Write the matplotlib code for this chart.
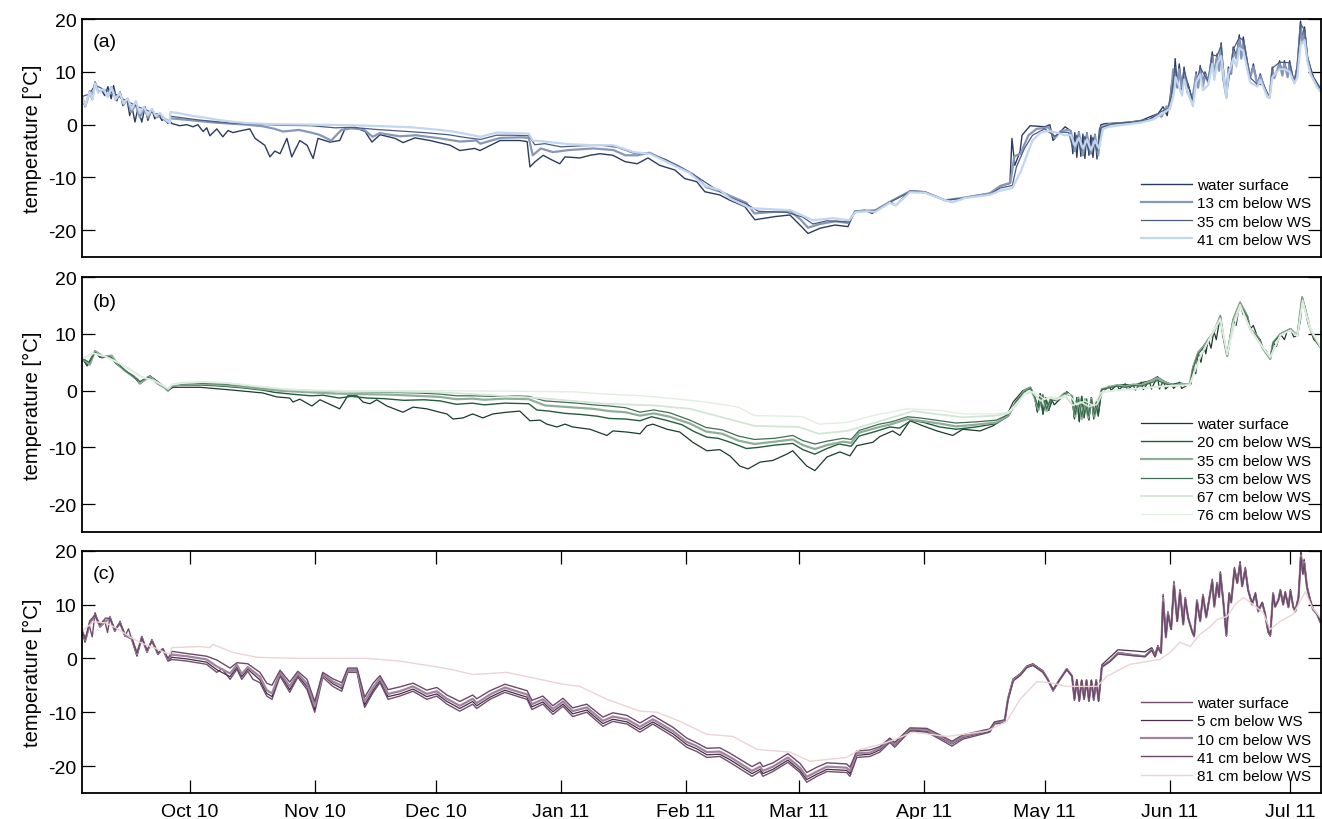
import datetime as dt

import matplotlib
matplotlib.use('Agg')
import matplotlib.pyplot as plt
import matplotlib.dates as mdates
import numpy as np

plt.rcParams['font.family'] = ['Liberation Sans', 'DejaVu Sans']
plt.rcParams['axes.unicode_minus'] = False

# day 0 = 1 Oct 2010, values are (day, temperature in degC)
START = dt.datetime(2010, 10, 1)
X_FROM, X_TO = -26.95, 280.6
MONTHS = [dt.datetime(2010, m, 1) for m in (10, 11, 12)] + \
         [dt.datetime(2011, m, 1) for m in range(1, 8)]

# ---------------- panel (a) ----------------
A_WS = [(-26.9, 5.5), (-26.1, 3.4), (-24.9, 6.4), (-24.4, 4.9), (-23.6, 8.1), (-22.9, 6.2), (-21.9, 6.4),
        (-21.2, 5.5), (-20.4, 7.2), (-19.6, 4.9), (-19.0, 7.4), (-18.2, 4.5), (-17.4, 6.2), (-16.7, 3.6),
        (-15.7, 4.9), (-15.0, 1.7), (-14.5, 3.6), (-13.7, 0.5), (-13.0, 3.0), (-12.0, 0.5), (-11.2, 3.4),
        (-10.5, 0.8), (-9.5, 3.0), (-8.8, 1.1), (-8.0, 2.1), (-7.0, 0.8), (-6.3, 1.1), (-5.5, 0.2),
        (-5.0, 0.6), (-4.5, 0.2), (-2.6, -0.2), (-0.8, 0.0), (0.7, -0.4), (1.9, 0.0), (3.2, -1.3),
        (4.1, -0.6), (4.9, -2.1), (6.6, -0.8), (8.1, -2.3), (9.4, -1.1), (10.6, -1.5), (12.3, -1.2),
        (13.6, -1.0), (14.8, -0.8), (16.1, -2.6), (18.5, -3.9), (19.8, -6.1), (21.0, -5.0), (22.3, -5.5),
        (24.0, -2.6), (25.2, -6.1), (27.2, -3.0), (29.0, -3.9), (30.5, -6.4), (31.7, -2.6), (34.7, -3.3),
        (37.1, -3.0), (38.4, -0.8), (40.9, -0.5), (43.4, -1.3), (45.1, -3.3), (47.1, -1.9), (50.9, -2.6),
        (52.8, -3.4), (55.8, -2.5), (59.5, -3.0), (64.5, -3.9), (66.9, -4.9), (70.6, -4.5), (71.9, -4.9),
        (76.9, -3.0), (81.8, -3.0), (83.6, -3.2), (84.3, -8.0), (85.6, -7.0), (87.6, -5.8), (89.8, -6.7),
        (91.7, -7.4), (93.0, -6.1), (96.7, -6.3), (99.2, -5.8), (101.7, -5.5), (104.9, -5.8), (107.9, -7.0),
        (110.9, -7.4), (113.6, -6.3), (116.5, -7.7), (120.3, -8.6), (122.7, -10.2), (125.7, -10.8),
        (127.7, -12.7), (131.4, -13.3), (133.9, -14.3), (137.6, -15.5), (140.1, -18.0), (142.6, -17.7),
        (145.1, -17.4), (148.8, -17.1), (151.3, -19.0), (153.3, -20.6), (156.3, -19.6), (160.0, -19.0),
        (163.2, -19.3), (164.9, -16.4), (167.4, -16.2), (169.2, -16.8), (171.2, -15.8), (173.6, -14.6),
        (175.1, -15.3), (178.6, -12.5), (182.3, -12.7), (187.3, -14.3), (189.2, -14.7), (192.2, -13.8),
        (198.4, -13.0), (200.9, -11.7), (203.4, -11.1), (203.9, -2.6), (204.6, -7.7), (205.9, -5.1),
        (206.4, -2.0), (208.4, -0.2), (212.1, -0.4), (213.3, 0.0), (214.1, -3.0), (215.8, -1.4),
        (217.1, -0.4), (218.5, -1.2), (219.0, -5.5), (219.5, -1.5), (220.0, -6.2), (220.5, -1.3),
        (221.0, -6.0), (221.5, -1.8), (222.0, -6.4), (222.5, -1.5), (223.0, -5.8), (223.5, -2.0),
        (224.0, -6.2), (224.5, -1.8), (225.0, -6.5), (225.6, -1.0), (226.0, 0.0), (227.0, 0.2),
        (230.0, 0.3), (233.2, 0.5), (236.0, 0.8), (238.2, 1.5), (240.2, 2.1), (241.4, 3.4), (242.4, 1.7),
        (243.1, 4.9), (243.6, 8.3), (243.9, 5.8), (244.4, 12.5), (244.9, 7.4), (245.4, 11.5), (246.1, 6.8),
        (246.6, 10.9), (247.4, 6.4), (247.6, 7.7), (248.6, 4.9), (248.8, 4.3), (249.6, 10.0), (250.1, 7.2),
        (250.6, 11.2), (251.3, 7.4), (251.8, 10.0), (252.6, 8.3), (253.6, 13.8), (254.1, 9.6), (254.8, 13.4),
        (255.3, 10.6), (255.8, 15.5), (256.3, 9.0), (257.1, 5.3), (257.6, 10.9), (258.3, 10.0),
        (258.8, 14.7), (259.6, 13.0), (260.3, 17.0), (260.8, 13.0), (261.3, 16.6), (262.3, 11.9),
        (263.0, 9.0), (263.8, 11.5), (264.8, 7.7), (265.5, 9.6), (266.3, 7.7), (267.3, 5.5), (267.8, 5.3),
        (268.5, 10.9), (269.0, 9.0), (269.8, 10.2), (270.3, 12.1), (271.0, 9.6), (271.5, 12.1),
        (272.3, 9.2), (272.8, 12.1), (273.5, 9.0), (274.0, 8.3), (274.7, 11.2), (275.5, 19.6),
        (276.0, 16.2), (276.5, 18.5), (277.2, 13.0), (278.0, 10.6), (278.7, 9.0), (279.7, 7.7), (280.5, 6.8)]

A_13 = [(-26.9, 5.3), (-26.0, 3.5), (-24.9, 6.3), (-24.3, 4.8), (-23.6, 7.9), (-22.8, 6.2), (-21.5, 6.6),
        (-20.5, 5.4), (-19.5, 7.1), (-18.5, 4.7), (-17.4, 6.0), (-16.5, 3.8), (-15.5, 4.9), (-14.7, 2.4),
        (-13.5, 3.8), (-12.5, 1.4), (-11.3, 3.2), (-10.5, 1.3), (-9.5, 2.8), (-8.3, 1.4), (-7.2, 1.8),
        (-6.2, 0.8), (-5.2, 0.4), (-5.0, 1.2), (-2.0, 1.0), (2.0, 0.7), (6.0, 0.4), (10.0, 0.2), (14.0, 0.0),
        (18.0, -0.3), (21.0, -0.8), (23.0, -1.3), (27.0, -1.0), (30.0, -1.5), (32.0, -1.9), (35.0, -3.0),
        (37.5, -1.0), (40.0, -0.7), (43.0, -0.9), (45.3, -2.3), (47.0, -1.6), (52.0, -2.2), (56.0, -2.0),
        (62.0, -2.6), (67.0, -3.2), (71.0, -3.0), (72.0, -3.6), (77.0, -2.5), (82.0, -2.4), (84.0, -2.5),
        (85.0, -5.8), (87.0, -4.5), (90.0, -5.2), (94.0, -4.8), (100.0, -4.5), (105.0, -4.8), (108.0, -5.8),
        (111.0, -5.8), (114.0, -5.3), (117.0, -6.5), (121.0, -7.8), (125.0, -9.5), (128.0, -11.8),
        (132.0, -12.8), (134.0, -13.5), (138.0, -14.8), (140.0, -16.8), (145.0, -16.5), (149.0, -16.4),
        (151.5, -18.0), (153.3, -19.5), (156.3, -18.8), (160.0, -18.3), (163.2, -18.6), (165.0, -16.4),
        (170.0, -16.2), (173.6, -14.6), (178.6, -12.6), (182.3, -12.8), (187.3, -14.3), (192.2, -13.8),
        (198.4, -13.0), (201.0, -11.6), (203.5, -11.0), (204.5, -6.0), (206.0, -5.5), (208.0, -2.0),
        (210.0, -0.8), (213.0, -0.5), (214.5, -2.5), (216.0, -1.2), (218.0, -1.0), (218.5, -1.2),
        (219.5, -5.0), (220.5, -1.5), (221.5, -5.8), (222.5, -1.8), (223.5, -5.5), (224.5, -2.0),
        (225.3, -5.8), (226.0, -0.5), (228.0, 0.1), (233.0, 0.4), (238.0, 0.9), (240.0, 2.0), (241.0, 1.5),
        (242.3, 3.5), (243.1, 3.0), (243.9, 10.5), (244.9, 7.0), (245.4, 10.5), (246.1, 6.5), (246.6, 10.0),
        (247.4, 6.2), (248.6, 4.5), (249.6, 9.5), (250.1, 7.0), (250.6, 10.5), (251.3, 7.2), (251.8, 9.5),
        (252.6, 8.0), (253.6, 13.0), (254.1, 9.3), (254.8, 12.8), (255.3, 10.2), (255.8, 14.8), (256.3, 8.8),
        (257.1, 5.2), (257.6, 10.5), (258.3, 9.6), (258.8, 14.0), (259.6, 12.5), (260.3, 16.2), (260.8, 12.5),
        (261.3, 15.8), (262.3, 11.5), (263.0, 8.8), (263.8, 11.0), (264.8, 7.5), (265.5, 9.2), (266.3, 7.5),
        (267.3, 5.3), (267.8, 5.1), (268.5, 10.5), (269.0, 8.8), (270.3, 11.6), (271.0, 9.3), (271.5, 11.6),
        (272.3, 9.0), (272.8, 11.5), (273.5, 8.8), (274.0, 8.0), (274.7, 10.8), (275.5, 18.5), (276.0, 15.5),
        (276.5, 17.5), (277.2, 12.5), (278.0, 10.2), (278.7, 8.8), (279.7, 7.4), (280.5, 6.6)]

A_35 = [(-26.9, 5.3), (-25.0, 5.8), (-23.6, 7.5), (-21.0, 6.5), (-19.0, 6.0), (-17.0, 5.0), (-15.0, 4.2),
        (-13.0, 3.4), (-11.0, 2.8), (-9.0, 2.2), (-7.0, 1.6), (-5.2, 0.6), (-4.9, 1.6), (-2.0, 1.3),
        (2.0, 0.9), (6.0, 0.6), (10.0, 0.3), (16.0, 0.1), (22.0, -0.1), (30.0, -0.2), (36.0, -0.6),
        (40.0, -0.5), (46.0, -0.9), (52.0, -1.2), (58.0, -1.5), (64.0, -1.9), (68.0, -2.4), (72.0, -2.8),
        (76.0, -2.0), (80.0, -2.0), (84.0, -2.1), (85.5, -3.8), (88.0, -3.6), (92.0, -4.2), (97.0, -4.0),
        (102.0, -3.9), (106.0, -4.3), (110.0, -5.4), (114.0, -5.4), (118.0, -6.6), (122.0, -8.2),
        (126.0, -10.0), (130.0, -12.0), (134.0, -13.8), (138.0, -15.0), (141.0, -16.4), (148.0, -16.6),
        (152.0, -17.5), (154.5, -18.8), (158.0, -18.2), (163.5, -18.4), (165.0, -16.5), (170.0, -16.3),
        (173.6, -14.7), (178.6, -12.7), (182.3, -12.8), (187.3, -14.3), (192.2, -13.9), (198.4, -13.2),
        (201.0, -12.0), (204.0, -11.5), (205.0, -8.0), (207.0, -4.5), (209.0, -2.0), (212.0, -0.8),
        (214.5, -2.2), (216.0, -1.4), (218.0, -1.5), (219.0, -4.5), (220.0, -2.0), (221.0, -5.0),
        (222.0, -2.2), (223.0, -5.2), (224.0, -2.4), (225.0, -5.0), (226.0, -0.6), (229.0, 0.2),
        (234.0, 0.5), (238.0, 1.0), (241.0, 2.5), (243.0, 3.2), (244.4, 11.0), (245.0, 7.2), (246.1, 6.6),
        (246.6, 10.4), (248.7, 4.6), (250.6, 10.8), (252.6, 8.2), (253.6, 13.2), (254.8, 13.0),
        (255.8, 15.0), (257.1, 5.3), (258.8, 14.2), (260.3, 16.5), (261.3, 16.0), (263.0, 8.9),
        (264.8, 7.6), (266.3, 7.6), (267.8, 5.2), (268.5, 10.7), (270.3, 11.8), (271.5, 11.8),
        (272.8, 11.7), (274.0, 8.1), (274.7, 11.0), (275.5, 19.0), (276.5, 18.0), (277.2, 12.8),
        (278.7, 9.0), (280.5, 6.7)]

A_41 = [(-26.9, 5.2), (-26.0, 3.6), (-25.0, 6.2), (-24.2, 4.8), (-23.6, 7.8), (-22.8, 6.0), (-21.5, 6.8),
        (-20.5, 5.2), (-19.5, 7.0), (-18.5, 4.8), (-17.5, 6.0), (-16.5, 4.0), (-15.5, 5.0), (-14.5, 3.0),
        (-13.5, 4.5), (-12.5, 2.2), (-11.5, 3.4), (-10.5, 1.8), (-9.5, 3.0), (-8.5, 1.6), (-7.5, 2.2),
        (-6.5, 1.2), (-5.5, 0.6), (-5.1, 0.3), (-4.9, 2.4), (-3.0, 2.2), (-1.0, 1.9), (1.0, 1.6), (4.0, 1.3),
        (7.0, 0.9), (10.0, 0.6), (14.0, 0.3), (20.0, 0.1), (30.0, 0.0), (40.0, -0.1), (48.0, -0.3),
        (55.0, -0.5), (62.0, -1.0), (66.0, -1.4), (70.0, -2.0), (72.0, -2.3), (76.0, -1.5), (80.0, -1.6),
        (84.0, -1.7), (85.0, -3.0), (88.0, -3.2), (94.0, -3.7), (100.0, -3.9), (105.0, -3.9), (110.0, -5.2),
        (114.0, -5.5), (120.0, -7.7), (124.0, -9.2), (127.5, -11.5), (131.5, -12.4), (134.0, -14.0),
        (139.0, -15.8), (149.0, -16.2), (154.5, -18.1), (159.5, -17.7), (163.5, -18.1), (165.0, -16.6),
        (168.0, -16.4), (170.0, -16.5), (173.6, -14.8), (175.1, -15.3), (178.6, -12.8), (182.3, -12.9),
        (187.3, -14.3), (189.2, -14.7), (192.2, -13.9), (198.4, -13.3), (201.0, -12.5), (204.0, -12.0),
        (206.0, -9.0), (208.0, -5.0), (209.0, -3.0), (211.0, -1.5), (213.0, -1.2), (215.0, -1.5),
        (217.0, -2.0), (218.5, -2.0), (219.5, -4.0), (220.5, -2.5), (221.5, -4.5), (222.5, -2.8),
        (223.5, -4.8), (224.5, -3.0), (225.5, -4.5), (226.5, -0.8), (228.0, -0.4), (232.0, 0.0),
        (236.0, 0.4), (239.0, 1.0), (241.0, 2.0), (243.0, 3.0), (244.0, 5.5), (244.5, 9.0), (245.4, 7.0),
        (246.1, 5.5), (246.6, 8.5), (247.6, 6.0), (248.8, 3.5), (249.6, 8.0), (250.6, 9.5), (251.3, 6.5),
        (252.6, 7.5), (253.6, 11.5), (254.1, 8.5), (254.8, 11.5), (255.8, 13.0), (257.1, 5.0), (257.6, 9.5),
        (258.8, 12.5), (259.6, 11.0), (260.3, 14.5), (261.3, 14.0), (262.3, 10.5), (263.0, 8.0),
        (264.8, 7.2), (265.5, 8.5), (267.3, 5.3), (267.8, 5.0), (268.5, 9.0), (270.3, 10.5), (271.5, 10.5),
        (272.8, 10.0), (274.0, 7.8), (274.7, 9.0), (275.5, 15.0), (276.5, 16.0), (277.2, 12.0),
        (278.0, 9.5), (279.7, 7.0), (280.5, 6.2)]

# ---------------- panel (b) ----------------
B_WS = [(-26.9, 5.9), (-25.6, 4.4), (-23.6, 7.0), (-22.4, 5.9), (-19.9, 6.1), (-18.2, 4.7), (-15.7, 3.3),
        (-14.0, 2.6), (-12.5, 1.2), (-10.0, 2.6), (-7.5, 1.2), (-5.5, 0.0), (-4.3, 0.6), (2.4, 0.6),
        (10.6, 0.1), (18.0, -0.4), (21.5, -1.1), (24.7, -1.3), (25.5, -2.0), (27.2, -1.5), (30.2, -2.7),
        (32.2, -1.6), (37.1, -3.2), (39.1, -0.9), (41.4, -0.9), (42.9, -2.0), (44.6, -2.3), (46.3, -1.6),
        (48.8, -2.7), (52.8, -3.8), (55.3, -2.9), (58.7, -3.2), (61.9, -3.8), (63.7, -4.1), (65.2, -5.0),
        (67.7, -4.8), (70.1, -4.1), (72.6, -4.8), (75.1, -4.1), (78.6, -3.8), (81.8, -3.6), (84.3, -5.3),
        (86.8, -5.2), (88.5, -5.9), (91.0, -6.4), (93.0, -5.9), (94.9, -6.4), (99.2, -6.8), (103.4, -7.9),
        (104.9, -7.1), (108.4, -7.3), (111.6, -7.6), (113.3, -6.2), (114.8, -5.9), (118.3, -6.8),
        (121.5, -7.3), (124.7, -9.1), (128.2, -10.6), (131.4, -10.4), (133.9, -11.5), (136.4, -13.3),
        (138.4, -13.8), (141.4, -12.6), (144.6, -12.3), (148.0, -11.2), (149.5, -10.6), (153.0, -13.3),
        (155.0, -14.1), (158.0, -11.7), (161.2, -10.8), (163.7, -11.5), (165.4, -9.7), (169.4, -9.1),
        (171.1, -8.1), (174.3, -7.1), (176.1, -7.9), (178.6, -5.3), (181.8, -6.2), (185.3, -7.1),
        (189.2, -7.9), (191.7, -6.8), (196.0, -7.1), (199.2, -6.2), (202.6, -4.4), (204.2, -2.0),
        (206.6, 0.0), (208.4, 0.6), (209.5, -1.0), (210.2, -3.8), (210.9, -0.5), (211.6, -4.2),
        (212.3, -1.2), (213.0, -3.5), (213.7, -1.5), (214.4, -2.5), (215.8, -1.5), (217.5, -0.2),
        (218.8, -1.0), (219.4, -5.0), (220.0, -1.2), (220.6, -5.5), (221.2, -1.0), (221.8, -4.8),
        (222.4, -1.5), (223.0, -5.2), (223.6, -1.2), (224.2, -5.0), (224.8, -2.0), (225.3, -4.5),
        (226.2, 0.3), (227.0, 0.2), (228.0, 0.8), (228.5, 0.1), (230.0, 1.0), (230.5, 0.2), (232.0, 1.2),
        (232.5, 0.2), (234.0, 1.0), (234.5, 0.1), (236.0, 1.5), (236.5, 0.2), (238.0, 1.8), (238.5, 0.3),
        (240.0, 2.5), (240.5, 0.3), (241.5, 1.8), (242.0, 0.3), (243.5, 1.2), (244.0, 0.4), (245.5, 1.5),
        (246.0, 0.4), (247.5, 1.0), (248.3, 1.2), (248.8, 4.2), (249.5, 3.0), (250.1, 6.8), (250.8, 5.0),
        (251.5, 8.0), (252.0, 6.5), (252.6, 9.1), (253.3, 7.5), (254.0, 10.5), (254.6, 9.0), (255.6, 13.2),
        (256.3, 9.7), (257.3, 6.1), (258.0, 9.5), (258.8, 12.6), (259.5, 11.5), (260.5, 15.6),
        (261.2, 13.5), (262.3, 13.2), (263.0, 10.9), (263.8, 11.5), (264.7, 9.7), (265.5, 9.0),
        (266.2, 7.4), (267.0, 7.0), (268.0, 5.6), (268.7, 8.5), (269.5, 7.8), (270.5, 10.0), (271.5, 9.0),
        (272.2, 10.5), (273.0, 10.9), (273.8, 9.5), (274.7, 9.7), (275.5, 12.5), (275.9, 16.5),
        (276.7, 14.4), (277.3, 12.0), (277.9, 10.9), (278.8, 9.0), (279.6, 8.5), (280.8, 7.4)]

B_20 = [(-26.9, 5.9), (-25.5, 4.4), (-23.6, 7.0), (-22.4, 5.9), (-19.9, 6.1), (-18.2, 4.7), (-15.7, 3.3),
        (-12.5, 1.5), (-10.0, 2.6), (-7.5, 1.3), (-5.5, 0.0), (-4.5, 0.8), (-2.0, 1.0), (3.0, 1.0),
        (8.0, 0.8), (13.0, 0.5), (18.0, 0.1), (21.0, -0.3), (25.0, -0.6), (30.0, -0.9), (33.0, -0.8),
        (37.0, -1.3), (40.0, -1.0), (44.0, -1.3), (48.0, -1.4), (53.0, -1.7), (58.0, -1.6), (62.0, -1.8),
        (66.0, -2.4), (70.0, -2.2), (73.0, -2.5), (78.0, -2.2), (84.0, -2.3), (86.0, -3.4), (89.0, -3.6),
        (93.0, -4.0), (97.0, -4.2), (101.0, -4.5), (104.0, -4.9), (108.0, -5.0), (111.6, -5.3),
        (114.5, -4.6), (118.0, -5.2), (122.0, -6.0), (125.0, -7.2), (128.2, -8.2), (131.0, -8.4),
        (134.0, -9.1), (138.0, -10.2), (141.0, -10.0), (145.0, -9.6), (149.5, -9.3), (152.0, -10.4),
        (155.0, -11.2), (158.0, -10.2), (161.0, -9.4), (164.0, -9.8), (166.0, -8.0), (170.0, -7.2),
        (173.6, -6.4), (176.0, -6.6), (179.0, -5.2), (182.0, -5.6), (186.0, -6.4), (190.0, -6.8),
        (195.0, -6.4), (200.0, -5.8), (203.0, -4.5), (205.0, -2.0), (207.0, 0.0), (208.5, 0.6),
        (209.5, -1.1), (210.2, -3.6), (210.9, -0.6), (211.6, -4.0), (212.3, -1.2), (213.0, -3.4),
        (214.0, -1.6), (215.8, -1.5), (217.5, -0.2), (218.8, -1.0), (219.4, -4.8), (220.0, -1.2),
        (220.6, -5.3), (221.2, -1.0), (221.8, -4.6), (222.4, -1.5), (223.0, -5.0), (223.6, -1.2),
        (224.2, -4.8), (224.8, -2.0), (225.3, -4.2), (226.2, 0.3), (227.0, 0.2), (228.0, 0.7), (230.0, 0.9),
        (232.0, 1.1), (234.0, 0.9), (236.0, 1.4), (238.0, 1.7), (240.0, 2.4), (241.5, 1.7), (243.5, 1.1),
        (245.5, 1.4), (247.5, 1.0), (248.3, 1.2), (248.8, 4.1), (250.1, 6.8), (251.5, 7.9), (252.6, 9.1),
        (254.0, 10.4), (255.6, 13.2), (256.3, 9.7), (257.3, 6.1), (258.8, 12.6), (260.5, 15.6),
        (262.3, 13.2), (263.0, 10.9), (264.7, 9.7), (266.2, 7.4), (268.0, 5.6), (268.7, 8.5), (270.5, 10.0),
        (273.0, 10.9), (274.7, 9.7), (275.9, 16.5), (276.7, 14.4), (277.9, 10.9), (279.6, 8.5), (280.8, 7.4)]

B_35 = [(-26.9, 5.8), (-24.9, 4.6), (-23.6, 7.0), (-21.5, 6.0), (-19.5, 6.2), (-18.0, 4.7), (-16.0, 3.4),
        (-13.0, 2.0), (-12.5, 1.3), (-10.0, 2.5), (-8.0, 1.2), (-6.0, 0.4), (-5.5, 0.0), (-4.5, 0.9),
        (-2.0, 1.1), (3.0, 1.2), (8.0, 1.0), (13.0, 0.7), (18.0, 0.3), (22.0, 0.0), (30.0, -0.3),
        (36.0, -0.5), (42.0, -0.6), (50.0, -0.7), (56.0, -0.9), (62.0, -1.1), (66.0, -1.5), (70.0, -1.4),
        (73.0, -1.6), (78.0, -1.4), (84.0, -1.5), (88.0, -2.6), (92.0, -2.8), (96.0, -3.0), (100.0, -3.2),
        (104.0, -3.6), (108.0, -3.8), (111.6, -4.4), (115.0, -4.0), (119.0, -4.6), (124.0, -5.8),
        (128.0, -7.2), (132.0, -7.6), (136.0, -8.8), (140.0, -9.4), (145.0, -9.0), (149.5, -8.6),
        (152.0, -9.6), (155.0, -10.3), (158.0, -9.6), (162.0, -9.0), (164.0, -9.2), (166.0, -7.4),
        (171.0, -6.4), (174.0, -5.9), (178.0, -5.0), (181.0, -5.3), (186.0, -5.8), (190.0, -6.3),
        (195.0, -6.0), (200.0, -5.6), (203.0, -4.4), (205.0, -1.9), (207.0, 0.0), (208.5, 0.5),
        (209.5, -1.2), (210.5, -3.4), (211.5, -0.7), (212.5, -3.6), (213.5, -1.4), (215.0, -1.7),
        (217.0, -0.4), (218.8, -0.9), (219.6, -4.6), (220.4, -1.2), (221.2, -5.0), (222.0, -1.5),
        (222.8, -4.8), (223.6, -1.4), (224.4, -4.6), (225.2, -2.2), (226.2, 0.3), (228.0, 0.6),
        (230.0, 1.0), (232.0, 0.7), (234.0, 1.1), (236.0, 1.0), (238.0, 1.6), (240.0, 2.2), (242.0, 1.4),
        (244.0, 0.9), (246.0, 1.2), (248.0, 1.1), (248.8, 4.0), (250.1, 6.7), (251.5, 7.8), (252.6, 9.0),
        (254.0, 10.4), (255.6, 13.1), (256.3, 9.7), (257.3, 6.1), (258.8, 12.5), (260.5, 15.5),
        (262.3, 13.1), (263.0, 10.9), (264.7, 9.7), (266.2, 7.4), (268.0, 5.6), (268.7, 8.5), (270.5, 10.0),
        (273.0, 10.9), (274.7, 9.7), (275.9, 16.4), (276.7, 14.3), (277.9, 10.9), (279.6, 8.5), (280.8, 7.4)]

B_53 = [(-26.9, 5.7), (-25.0, 5.0), (-23.6, 6.8), (-22.0, 5.8), (-20.0, 6.0), (-18.0, 4.8), (-16.0, 3.5),
        (-14.0, 2.5), (-12.5, 1.6), (-10.5, 2.4), (-8.0, 1.4), (-6.0, 0.5), (-5.5, 0.1), (-4.5, 1.0),
        (-2.0, 1.2), (3.0, 1.3), (8.0, 1.2), (13.0, 0.9), (18.0, 0.5), (24.0, 0.2), (30.0, 0.0), (36.0, -0.1),
        (42.0, -0.2), (50.0, -0.3), (56.0, -0.4), (62.0, -0.6), (66.0, -0.9), (70.0, -0.9), (75.0, -1.0),
        (80.0, -0.9), (84.0, -1.0), (88.0, -1.8), (92.0, -2.0), (96.0, -2.2), (100.0, -2.5), (104.0, -2.7),
        (108.0, -3.0), (111.6, -3.8), (115.0, -3.4), (119.0, -3.9), (124.0, -5.2), (128.0, -6.5),
        (132.0, -6.9), (136.0, -8.0), (140.0, -8.6), (145.0, -8.4), (149.5, -7.9), (152.0, -8.8),
        (155.0, -9.4), (158.0, -8.9), (162.0, -8.4), (164.0, -8.6), (166.0, -7.0), (171.0, -5.9),
        (174.0, -5.5), (178.0, -4.6), (181.0, -4.8), (186.0, -5.3), (190.0, -5.7), (195.0, -5.5),
        (200.0, -5.2), (203.0, -4.2), (205.0, -1.8), (207.0, -0.2), (208.5, 0.4), (209.5, -1.0),
        (210.5, -3.0), (211.5, -0.8), (212.5, -3.2), (213.5, -1.5), (215.0, -1.8), (217.0, -0.5),
        (218.8, -1.0), (219.6, -4.2), (220.4, -1.5), (221.2, -4.5), (222.0, -1.8), (222.8, -4.4),
        (223.6, -1.6), (224.4, -4.2), (225.2, -2.5), (226.2, 0.2), (228.0, 0.5), (230.0, 0.8), (232.0, 0.6),
        (234.0, 0.9), (236.0, 0.8), (238.0, 1.3), (240.0, 1.8), (242.0, 1.2), (244.0, 0.8), (246.0, 1.0),
        (248.0, 1.0), (248.8, 3.8), (250.1, 6.5), (251.5, 7.6), (252.6, 8.9), (254.0, 10.2), (255.6, 13.0),
        (256.3, 9.7), (257.3, 6.2), (258.8, 12.3), (260.5, 15.3), (262.3, 13.0), (263.0, 10.8),
        (264.7, 9.6), (266.2, 7.4), (268.0, 5.7), (268.7, 8.4), (270.5, 9.9), (273.0, 10.8), (274.7, 9.6),
        (275.9, 16.2), (276.7, 14.2), (277.9, 10.8), (279.6, 8.4), (280.8, 7.3)]

B_67 = [(-26.9, 5.6), (-24.0, 6.6), (-21.0, 6.0), (-18.0, 5.0), (-15.0, 3.8), (-12.0, 2.4), (-9.0, 1.8),
        (-6.5, 0.8), (-5.5, 0.3), (-4.5, 1.1), (-2.0, 1.4), (3.0, 1.5), (8.0, 1.4), (13.0, 1.0), (18.0, 0.6),
        (24.0, 0.2), (30.0, 0.0), (40.0, -0.1), (55.0, -0.2), (62.0, -0.3), (75.0, -0.8), (82.0, -1.1),
        (90.0, -1.5), (103.0, -2.3), (115.0, -2.6), (124.0, -3.2), (132.0, -4.7), (140.0, -6.2),
        (151.0, -6.4), (156.0, -7.6), (163.0, -7.1), (172.0, -5.2), (179.4, -3.6), (186.0, -4.2),
        (191.7, -4.7), (200.0, -4.4), (203.0, -4.0), (205.0, -2.5), (207.0, -0.5), (209.0, -0.3),
        (211.0, -1.8), (213.0, -1.2), (215.0, -1.6), (217.0, -0.8), (219.0, -2.6), (221.0, -2.0),
        (223.0, -2.8), (225.0, -2.4), (226.5, -0.2), (232.0, 0.2), (240.0, 0.7), (248.0, 1.0), (249.0, 3.0),
        (251.0, 6.5), (252.6, 8.8), (255.6, 12.8), (257.3, 6.3), (258.8, 12.0), (260.5, 15.2),
        (263.0, 10.8), (266.2, 7.5), (268.0, 5.8), (270.5, 9.8), (273.0, 10.7), (274.7, 9.6), (276.0, 16.0),
        (277.9, 10.8), (280.8, 7.3)]

B_76 = [(-26.9, 5.6), (-24.0, 6.6), (-21.0, 6.0), (-18.0, 5.0), (-15.0, 3.8), (-12.0, 2.4), (-9.0, 1.8),
        (-6.5, 0.8), (-5.5, 0.3), (-4.5, 1.0), (-2.0, 1.3), (3.0, 1.5), (8.0, 1.4), (13.0, 1.1), (18.0, 0.7),
        (24.0, 0.3), (30.0, 0.1), (40.0, 0.0), (60.0, 0.0), (80.0, -0.1), (95.0, -0.2), (103.0, -0.6),
        (112.0, -0.9), (120.0, -1.4), (128.0, -2.0), (136.0, -2.9), (140.0, -4.4), (148.0, -4.5),
        (152.0, -4.6), (156.0, -5.9), (163.0, -5.6), (170.0, -4.3), (178.0, -3.2), (186.0, -3.5),
        (192.0, -4.1), (200.0, -4.1), (203.0, -3.8), (206.0, -1.5), (208.0, 0.0), (210.0, -0.5),
        (212.0, -1.5), (214.0, -1.0), (216.0, -1.4), (218.0, -0.6), (220.0, -2.5), (222.0, -1.8),
        (224.0, -2.6), (226.0, -0.3), (230.0, 0.1), (236.0, 0.4), (242.0, 0.8), (248.0, 1.0), (248.8, 2.5),
        (250.5, 6.0), (252.5, 8.5), (255.6, 12.5), (257.3, 6.5), (260.5, 15.0), (263.0, 11.0), (266.0, 7.8),
        (268.0, 6.0), (270.5, 9.8), (273.0, 10.6), (274.7, 9.6), (276.0, 15.5), (278.0, 11.0), (280.8, 7.3)]

# ---------------- panel (c) ----------------
C_WS = [(-26.9, 5.4), (-26.1, 3.0), (-25.0, 6.0), (-24.3, 4.0), (-23.6, 8.5), (-22.4, 5.9), (-21.2, 7.0),
        (-20.5, 4.8), (-19.9, 7.8), (-18.7, 5.0), (-17.4, 6.9), (-16.2, 4.1), (-15.3, 5.5), (-14.5, 3.5),
        (-13.2, 0.4), (-12.0, 4.1), (-10.7, 1.1), (-9.5, 3.5), (-8.0, 0.7), (-6.8, 1.7), (-5.5, -0.5),
        (-4.5, -0.2), (-0.8, -0.5), (4.1, -1.1), (6.6, -2.6), (7.9, -1.9), (9.9, -3.9), (11.6, -2.0),
        (12.8, -3.9), (14.3, -2.4), (15.6, -3.9), (17.3, -4.5), (19.0, -7.0), (20.3, -7.6), (22.3, -3.3),
        (24.7, -6.3), (26.7, -3.5), (29.0, -5.8), (30.9, -10.0), (32.9, -3.5), (35.4, -5.2), (37.6, -6.1),
        (39.1, -2.6), (41.4, -2.6), (42.6, -7.0), (43.3, -9.1), (45.4, -6.3), (47.1, -4.5), (49.1, -7.6),
        (52.0, -7.0), (55.3, -6.1), (58.7, -7.6), (61.2, -7.0), (63.7, -8.5), (66.9, -9.8), (70.1, -8.5),
        (71.1, -9.3), (74.4, -7.6), (78.1, -6.3), (81.8, -7.2), (83.6, -7.6), (84.8, -9.5), (87.5, -8.5),
        (90.0, -10.4), (92.5, -8.9), (94.9, -10.8), (98.4, -10.0), (102.4, -12.6), (104.9, -11.7),
        (108.4, -12.2), (111.6, -13.7), (114.8, -12.2), (119.8, -14.5), (123.2, -16.5), (125.7, -17.3),
        (128.2, -18.4), (131.4, -18.2), (133.9, -19.3), (139.4, -21.9), (141.4, -21.0), (142.1, -21.9),
        (144.6, -21.0), (148.3, -19.3), (151.3, -21.2), (153.0, -23.0), (155.5, -21.9), (158.0, -21.0),
        (162.9, -21.2), (163.7, -21.9), (165.4, -18.4), (168.7, -18.2), (171.1, -17.4), (173.6, -15.6),
        (174.8, -16.5), (178.6, -13.5), (182.8, -13.7), (186.0, -15.0), (189.0, -16.3), (191.7, -15.0),
        (198.4, -13.7), (199.6, -12.2), (202.1, -11.9), (202.9, -7.6), (204.2, -3.9), (205.9, -3.0),
        (207.6, -1.5), (209.1, -1.1), (211.6, -2.4), (212.8, -3.9), (214.1, -6.1), (215.8, -3.9),
        (217.5, -2.0), (218.8, -3.3), (219.4, -7.8), (220.0, -4.0), (220.6, -8.0), (221.2, -4.2),
        (221.8, -7.6), (222.4, -4.0), (223.0, -8.0), (223.6, -4.2), (224.2, -7.8), (224.8, -4.0),
        (225.4, -8.0), (226.2, -1.5), (228.2, -0.5), (230.2, 1.1), (233.9, 0.7), (236.9, 0.4), (238.6, 1.7),
        (239.4, 0.4), (240.1, 2.2), (240.9, 1.1), (241.4, 11.9), (242.1, 3.9), (242.6, 8.7), (243.4, 5.4),
        (244.1, 14.3), (244.9, 6.9), (245.6, 12.8), (246.4, 6.3), (246.9, 11.3), (247.6, 7.6), (248.6, 5.0),
        (249.1, 4.1), (249.8, 10.9), (250.6, 6.9), (251.3, 11.9), (252.1, 7.6), (252.6, 10.0), (253.6, 14.7),
        (254.1, 9.6), (254.8, 14.1), (255.3, 11.5), (255.6, 16.1), (256.3, 10.9), (257.1, 4.1),
        (257.8, 12.2), (258.3, 10.4), (259.1, 16.9), (259.8, 14.1), (260.5, 18.0), (261.0, 13.4),
        (261.8, 16.9), (262.5, 12.8), (263.5, 10.0), (264.3, 12.2), (265.0, 8.7), (266.0, 10.4),
        (266.7, 8.2), (267.5, 4.8), (268.0, 4.1), (268.7, 12.2), (269.2, 9.6), (270.0, 10.9), (270.5, 12.8),
        (271.2, 10.0), (271.7, 12.4), (272.5, 9.5), (273.0, 12.8), (273.7, 9.5), (274.2, 8.7), (275.0, 11.5),
        (275.6, 19.9), (276.1, 16.0), (276.4, 18.4), (277.1, 13.4), (277.9, 10.9), (278.6, 9.1),
        (279.6, 8.2), (280.4, 6.7)]

C_5 = [(-26.9, 5.3), (-26.1, 3.2), (-24.9, 6.5), (-23.6, 8.2), (-22.4, 5.8), (-19.9, 7.6), (-18.7, 5.1),
       (-17.4, 6.7), (-16.2, 4.2), (-14.5, 3.6), (-13.2, 0.6), (-12.0, 4.0), (-10.7, 1.2), (-9.5, 3.4),
       (-8.0, 0.8), (-6.8, 1.7), (-5.5, -0.4), (-4.5, 0.2), (-0.8, -0.1), (4.1, -0.7), (6.6, -2.1),
       (9.9, -3.4), (11.6, -1.6), (12.8, -3.4), (14.3, -2.0), (17.3, -4.0), (19.0, -6.5), (20.3, -7.1),
       (22.3, -2.9), (24.7, -5.8), (26.7, -3.1), (29.0, -5.3), (30.9, -9.5), (32.9, -3.1), (35.4, -4.7),
       (37.6, -5.6), (39.1, -2.3), (41.4, -2.3), (42.6, -6.5), (43.3, -8.6), (45.4, -5.9), (47.1, -4.1),
       (49.1, -7.1), (52.0, -6.6), (55.3, -5.7), (58.7, -7.1), (61.2, -6.6), (63.7, -8.0), (66.9, -9.3),
       (70.1, -8.0), (71.1, -8.8), (74.4, -7.2), (78.1, -5.9), (81.8, -6.8), (83.6, -7.2), (84.8, -9.0),
       (87.5, -8.1), (90.0, -9.9), (92.5, -8.5), (94.9, -10.3), (98.4, -9.6), (102.4, -12.1), (104.9, -11.3),
       (108.4, -11.8), (111.6, -13.2), (114.8, -11.8), (119.8, -14.0), (123.2, -16.0), (125.7, -16.8),
       (128.2, -17.9), (131.4, -17.8), (133.9, -18.8), (139.4, -21.4), (141.4, -20.6), (142.1, -21.4),
       (144.6, -20.6), (148.3, -18.9), (151.3, -20.8), (153.0, -22.5), (155.5, -21.5), (158.0, -20.6),
       (162.9, -20.8), (163.7, -21.4), (165.4, -18.0), (168.7, -17.8), (171.1, -17.0), (173.6, -15.3),
       (174.8, -16.1), (178.6, -13.3), (182.8, -13.5), (186.0, -14.7), (189.0, -15.9), (191.7, -14.7),
       (198.4, -13.5), (199.6, -12.0), (202.1, -11.7), (202.9, -7.4), (204.2, -3.8), (205.9, -2.9),
       (207.6, -1.4), (209.1, -1.0), (211.6, -2.3), (212.8, -3.8), (214.1, -5.9), (215.8, -3.8),
       (217.5, -1.9), (218.8, -3.2), (219.4, -7.6), (220.0, -4.0), (220.6, -7.9), (221.2, -4.1),
       (221.8, -7.5), (222.4, -4.0), (223.0, -7.9), (223.6, -4.1), (224.2, -7.7), (224.8, -4.0),
       (225.4, -7.9), (226.2, -1.2), (228.2, 0.2), (230.2, 1.6), (233.9, 1.4), (236.9, 1.2), (238.6, 2.0),
       (239.4, 0.8), (240.1, 2.4), (240.9, 1.2), (241.4, 11.5), (242.1, 4.0), (242.6, 8.5), (243.4, 5.4),
       (244.1, 14.0), (244.9, 6.9), (245.6, 12.6), (246.4, 6.3), (246.9, 11.2), (247.6, 7.6), (248.6, 5.0),
       (249.1, 4.1), (249.8, 10.7), (250.6, 6.9), (251.3, 11.7), (252.1, 7.6), (252.6, 9.9), (253.6, 14.5),
       (254.1, 9.6), (254.8, 14.0), (255.3, 11.5), (255.6, 15.9), (256.3, 10.9), (257.1, 4.2), (257.8, 12.1),
       (258.3, 10.4), (259.1, 16.7), (259.8, 14.1), (260.5, 17.8), (261.0, 13.4), (261.8, 16.7),
       (262.5, 12.7), (263.5, 10.0), (264.3, 12.1), (265.0, 8.7), (266.0, 10.4), (266.7, 8.2), (267.5, 4.8),
       (268.0, 4.2), (268.7, 12.1), (269.2, 9.6), (270.0, 10.9), (270.5, 12.7), (271.2, 10.0), (271.7, 12.3),
       (272.5, 9.5), (273.0, 12.7), (273.7, 9.5), (274.2, 8.7), (275.0, 11.4), (275.6, 19.6), (276.1, 15.9),
       (276.4, 18.2), (277.1, 13.3), (277.9, 10.9), (278.6, 9.1), (279.6, 8.2), (280.4, 6.7)]

C_10 = [(-26.9, 5.3), (-26.0, 3.4), (-24.9, 6.6), (-23.6, 8.0), (-22.4, 6.0), (-19.9, 7.5), (-18.7, 5.2),
        (-17.4, 6.6), (-16.2, 4.3), (-14.5, 3.7), (-13.2, 0.8), (-12.0, 3.9), (-10.7, 1.3), (-9.5, 3.3),
        (-8.0, 0.9), (-6.8, 1.7), (-5.5, -0.2), (-4.5, 0.7), (-0.8, 0.4), (4.1, -0.2), (6.6, -1.5),
        (9.9, -2.8), (11.6, -1.2), (12.8, -2.9), (14.3, -1.6), (17.3, -3.4), (19.0, -5.9), (20.3, -6.5),
        (22.3, -2.6), (24.7, -5.2), (26.7, -2.8), (29.0, -4.7), (30.9, -8.9), (32.9, -2.9), (35.4, -4.3),
        (37.6, -5.1), (39.1, -2.1), (41.4, -2.1), (42.6, -5.9), (43.3, -8.0), (45.4, -5.4), (47.1, -3.7),
        (49.1, -6.6), (52.0, -6.1), (55.3, -5.2), (58.7, -6.6), (61.2, -6.1), (63.7, -7.5), (66.9, -8.8),
        (70.1, -7.5), (71.1, -8.3), (74.4, -6.7), (78.1, -5.4), (81.8, -6.3), (83.6, -6.7), (84.8, -8.5),
        (87.5, -7.6), (90.0, -9.4), (92.5, -8.0), (94.9, -9.8), (98.4, -9.1), (102.4, -11.6), (104.9, -10.8),
        (108.4, -11.3), (111.6, -12.7), (114.8, -11.3), (119.8, -13.5), (123.2, -15.5), (125.7, -16.3),
        (128.2, -17.4), (131.4, -17.3), (133.9, -18.3), (139.4, -20.9), (141.4, -20.1), (142.1, -20.9),
        (144.6, -20.1), (148.3, -18.4), (151.3, -20.3), (153.0, -22.0), (155.5, -21.0), (158.0, -20.1),
        (162.9, -20.3), (163.7, -20.9), (165.4, -17.6), (168.7, -17.5), (171.1, -16.7), (173.6, -15.1),
        (174.8, -15.9), (178.6, -13.1), (182.8, -13.3), (186.0, -14.5), (189.0, -15.7), (191.7, -14.5),
        (198.4, -13.3), (199.6, -11.9), (202.1, -11.6), (202.9, -7.6), (204.2, -4.0), (205.9, -3.1),
        (207.6, -1.6), (209.1, -1.2), (211.6, -2.5), (212.8, -3.9), (214.1, -5.9), (215.8, -3.9),
        (217.5, -2.0), (218.8, -3.3), (219.4, -7.5), (220.0, -4.1), (220.6, -7.8), (221.2, -4.2),
        (221.8, -7.4), (222.4, -4.1), (223.0, -7.8), (223.6, -4.2), (224.2, -7.6), (224.8, -4.1),
        (225.4, -7.7), (226.2, -1.6), (228.2, -0.5), (230.2, 1.0), (233.9, 0.6), (236.9, 0.4), (238.6, 1.6),
        (239.4, 0.4), (240.1, 2.1), (240.9, 1.0), (241.4, 11.2), (242.1, 3.9), (242.6, 8.4), (243.4, 5.4),
        (244.1, 13.8), (244.9, 6.9), (245.6, 12.4), (246.4, 6.3), (246.9, 11.1), (247.6, 7.6), (248.6, 5.0),
        (249.1, 4.1), (249.8, 10.6), (250.6, 6.9), (251.3, 11.6), (252.1, 7.6), (252.6, 9.9), (253.6, 14.3),
        (254.1, 9.6), (254.8, 13.9), (255.3, 11.4), (255.6, 15.7), (256.3, 10.9), (257.1, 4.3),
        (257.8, 12.0), (258.3, 10.4), (259.1, 16.5), (259.8, 14.0), (260.5, 17.5), (261.0, 13.4),
        (261.8, 16.5), (262.5, 12.7), (263.5, 10.0), (264.3, 12.0), (265.0, 8.7), (266.0, 10.3),
        (266.7, 8.2), (267.5, 4.9), (268.0, 4.3), (268.7, 12.0), (269.2, 9.6), (270.0, 10.8), (270.5, 12.6),
        (271.2, 10.0), (271.7, 12.2), (272.5, 9.5), (273.0, 12.5), (273.7, 9.5), (274.2, 8.7), (275.0, 11.3),
        (275.6, 19.1), (276.1, 15.8), (276.4, 17.9), (277.1, 13.2), (277.9, 10.8), (278.6, 9.1),
        (279.6, 8.2), (280.4, 6.8)]

C_41 = [(-26.9, 5.2), (-26.0, 3.6), (-24.9, 7.0), (-23.6, 8.0), (-22.4, 6.2), (-21.0, 7.5), (-19.9, 7.4),
        (-18.7, 5.3), (-17.4, 6.5), (-16.2, 4.5), (-14.5, 3.8), (-13.2, 1.0), (-12.0, 3.8), (-10.7, 1.5),
        (-9.5, 3.2), (-8.0, 1.0), (-6.8, 1.8), (-5.5, 0.0), (-4.5, 1.3), (-0.8, 0.9), (4.1, 0.4), (6.6, -0.3),
        (9.9, -1.8), (11.6, -0.8), (14.3, -1.0), (17.3, -2.6), (19.0, -4.6), (20.3, -5.0), (22.3, -2.2),
        (24.7, -4.4), (26.7, -2.4), (29.0, -3.9), (30.9, -8.0), (32.9, -2.6), (35.4, -3.8), (37.6, -4.5),
        (39.1, -1.8), (41.4, -1.8), (42.6, -5.2), (43.3, -7.2), (45.4, -4.6), (47.1, -3.2), (49.1, -5.8),
        (52.0, -5.3), (55.3, -4.6), (58.7, -5.9), (61.2, -5.4), (63.7, -6.8), (66.9, -8.0), (70.1, -6.8),
        (71.1, -7.5), (74.4, -6.0), (78.1, -4.8), (81.8, -5.6), (83.6, -6.0), (84.8, -7.8), (87.5, -7.0),
        (90.0, -8.8), (92.5, -7.4), (94.9, -9.2), (98.4, -8.5), (102.4, -10.9), (104.9, -10.1), (108.4, -10.6),
        (111.6, -12.0), (114.8, -10.6), (119.8, -12.8), (123.2, -14.8), (125.7, -15.7), (128.2, -16.7),
        (131.4, -16.6), (133.9, -17.6), (139.4, -20.1), (141.4, -19.3), (142.1, -20.1), (144.6, -19.4),
        (148.3, -17.7), (151.3, -19.5), (153.0, -21.2), (155.5, -20.2), (158.0, -19.4), (162.9, -19.6),
        (163.7, -20.2), (165.4, -17.2), (168.7, -17.0), (171.1, -16.4), (173.6, -14.8), (174.8, -15.6),
        (178.6, -12.9), (182.8, -13.0), (186.0, -14.2), (189.0, -15.4), (191.7, -14.2), (198.4, -13.1),
        (199.6, -11.8), (202.1, -11.4), (202.9, -7.8), (204.2, -4.2), (205.9, -3.2), (207.6, -1.7),
        (209.1, -1.3), (211.6, -2.6), (212.8, -4.0), (214.1, -5.8), (215.8, -3.9), (217.5, -2.1),
        (218.8, -3.3), (219.4, -7.5), (220.0, -4.0), (220.6, -7.8), (221.2, -4.0), (221.8, -7.6),
        (222.4, -4.2), (223.0, -7.8), (223.6, -4.0), (224.2, -7.5), (224.8, -4.2), (225.4, -7.8),
        (226.2, -1.6), (228.2, -0.6), (230.2, 0.8), (233.9, 0.5), (236.9, 0.3), (238.6, 1.5), (239.4, 0.3),
        (240.1, 2.0), (240.9, 1.0), (241.4, 10.5), (242.1, 4.0), (242.6, 8.2), (243.4, 5.4), (244.1, 13.5),
        (244.9, 6.9), (245.6, 12.2), (246.4, 6.4), (246.9, 11.0), (247.6, 7.6), (248.6, 5.0), (249.1, 4.2),
        (249.8, 10.5), (250.6, 7.0), (251.3, 11.5), (252.1, 7.8), (252.6, 9.8), (253.6, 14.2), (254.1, 9.8),
        (254.8, 13.8), (255.3, 11.4), (255.6, 15.6), (256.3, 10.8), (257.1, 4.5), (257.8, 12.0),
        (258.3, 10.4), (259.1, 16.4), (259.8, 14.0), (260.5, 17.4), (261.0, 13.4), (261.8, 16.4),
        (262.5, 12.6), (263.5, 10.2), (264.3, 12.0), (265.0, 8.9), (266.0, 10.4), (266.7, 8.4), (267.5, 5.0),
        (268.0, 4.4), (268.7, 11.9), (269.2, 9.6), (270.0, 10.8), (270.5, 12.5), (271.2, 10.0), (271.7, 12.2),
        (272.5, 9.6), (273.0, 12.4), (273.7, 9.6), (274.2, 8.9), (275.0, 11.2), (275.6, 18.8), (276.1, 15.6),
        (276.4, 17.6), (277.1, 13.2), (277.9, 10.8), (278.6, 9.2), (279.6, 8.3), (280.4, 6.9)]

C_81 = [(-26.9, 5.0), (-24.0, 6.8), (-21.0, 6.6), (-18.0, 5.5), (-15.0, 4.0), (-12.0, 2.8), (-9.0, 2.0),
        (-6.0, 1.0), (-5.0, 0.8), (-4.5, 2.0), (2.4, 2.2), (4.9, 2.0), (5.6, 2.6), (10.6, 1.1), (16.6, 0.2),
        (27.0, 0.0), (44.0, 0.0), (52.0, -0.5), (60.5, -1.5), (64.5, -2.0), (70.1, -3.0), (78.6, -2.6),
        (86.8, -3.9), (92.5, -4.8), (96.7, -5.2), (103.4, -7.6), (111.6, -9.8), (115.8, -10.0),
        (121.5, -11.7), (128.2, -14.1), (134.7, -14.5), (140.6, -16.9), (148.8, -17.4), (153.8, -19.1),
        (162.9, -18.4), (166.2, -16.9), (171.1, -16.0), (173.6, -15.4), (179.4, -13.7), (187.8, -14.5),
        (197.7, -13.5), (202.6, -11.7), (205.9, -7.6), (210.1, -4.3), (213.3, -4.5), (217.5, -5.2),
        (225.0, -5.2), (227.5, -3.3), (233.2, -1.1), (240.6, -0.2), (243.1, 1.1), (245.6, 3.0), (248.1, 2.2),
        (250.6, 4.5), (253.1, 5.9), (254.8, 7.2), (257.3, 7.8), (259.3, 10.0), (261.3, 11.3), (263.8, 10.0),
        (266.2, 8.5), (268.0, 5.4), (270.5, 6.9), (273.7, 8.2), (276.7, 12.4), (278.3, 9.6), (280.4, 7.6)]

PANELS = [
    ('(a)', [('water surface', A_WS, '#2a3b5f', 1.0), ('13 cm below WS', A_13, '#8797b8', 1.6),
             ('35 cm below WS', A_35, '#4b5c82', 0.9), ('41 cm below WS', A_41, '#c2d6f0', 1.6)]),
    ('(b)', [('water surface', B_WS, '#1c3a2a', 0.9), ('20 cm below WS', B_20, '#245c3d', 1.0),
             ('35 cm below WS', B_35, '#8fae98', 1.6), ('53 cm below WS', B_53, '#3f6e53', 0.9),
             ('67 cm below WS', B_67, '#d3e6d5', 1.3), ('76 cm below WS', B_76, '#e1efe1', 1.0)]),
    ('(c)', [('water surface', C_WS, '#6e4f6c', 1.0), ('5 cm below WS', C_5, '#4a2d48', 0.9),
             ('10 cm below WS', C_10, '#a0849e', 1.6), ('41 cm below WS', C_41, '#6b4a69', 1.0),
             ('81 cm below WS', C_81, '#ecd3d5', 1.0)]),
]

# axes boxes in figure fractions [left, bottom, width, height]
BOXES = [[0.0617, 0.6857, 0.9376, 0.2899],
         [0.0617, 0.3495, 0.9376, 0.3111],
         [0.0617, 0.0317, 0.9376, 0.2955]]


def main():
    base = mdates.date2num(START)
    fig = plt.figure(figsize=(13.22, 8.2), dpi=100)

    for i, (tag, series) in enumerate(PANELS):
        ax = fig.add_axes(BOXES[i])
        for label, data, color, lw in series:
            arr = np.array(data)
            ax.plot(base + arr[:, 0], arr[:, 1], color=color, lw=lw, label=label)

        ax.set_xlim(base + X_FROM, base + X_TO)
        ax.set_ylim(-25, 20)
        ax.set_yticks([-20, -10, 0, 10, 20])
        ax.set_ylabel('temperature [°C]', fontsize=14.5, labelpad=5)
        ax.text(0.009, 0.905, tag, transform=ax.transAxes, fontsize=14, va='center')

        ax.set_xticks([mdates.date2num(m) for m in MONTHS])
        ax.xaxis.set_major_formatter(mdates.DateFormatter('%b %y'))
        last = i == len(PANELS) - 1
        ax.tick_params(axis='both', direction='in', length=9.5, width=0.9, labelsize=14,
                       right=True, top=last, bottom=last, labelbottom=last)
        ax.tick_params(axis='x', pad=7)
        for sp in ax.spines.values():
            sp.set_linewidth(1.3)

        ax.legend(loc='lower right', frameon=False, fontsize=11, handlelength=3.3,
                  handletextpad=0.35, labelspacing=0.28, borderaxespad=0.45, borderpad=0.2)

    fig.savefig('out.png', dpi=100)


if __name__ == '__main__':
    main()
